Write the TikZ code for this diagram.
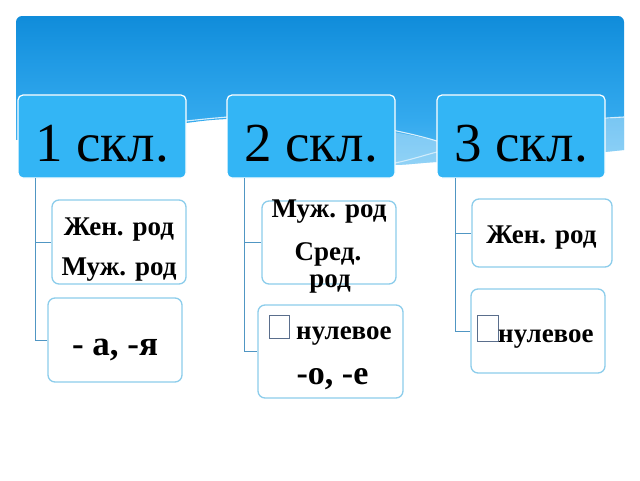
\documentclass[tikz,border=0pt]{standalone}
\usepackage{fontspec}
\setmainfont{Liberation Serif}
\usetikzlibrary{calc}
\definecolor{bantop}{RGB}{16,140,218}
\definecolor{banmid}{RGB}{32,154,228}
\definecolor{banlow}{RGB}{52,170,238}
\definecolor{banbot}{RGB}{85,186,242}
\definecolor{hdr}{RGB}{51,181,245}
\definecolor{cbord}{RGB}{140,205,235}
\definecolor{conn}{RGB}{80,150,195}
\definecolor{tofu}{RGB}{90,110,140}
\pgfdeclareverticalshading{bansh}{100bp}{color(0bp)=(banbot); color(25bp)=(banbot); color(40bp)=(banlow); color(60bp)=(banmid); color(75bp)=(bantop); color(100bp)=(bantop)}
\tikzset{
  hdrbox/.style={draw=white, line width=1.2pt, fill=hdr, rounded corners=5pt, inner sep=0pt},
  childbox/.style={draw=cbord, line width=1.3pt, fill=white, rounded corners=7pt, inner sep=0pt},
  hdrtext/.style={font=\fontsize{55}{60}\selectfont, anchor=base, inner sep=0pt},
  lbl/.style={font=\fontsize{27}{30}\selectfont\bfseries, anchor=base, inner sep=0pt},
  endg/.style={font=\fontsize{35}{40}\selectfont\bfseries, anchor=base, inner sep=0pt},
  tofubox/.style={draw=tofu, line width=0.8pt, fill=white, inner sep=0pt},
  connline/.style={draw=conn, line width=1pt},
  streak/.style={draw=white, line width=1.1pt}
}
\begin{document}
\begin{tikzpicture}[x=1pt,y=-1pt]
\useasboundingbox (0,0) rectangle (640,480);
% banner
\shade[shading=bansh]
  (16,140) -- (16,22) arc[start angle=180,end angle=270,radius=6] -- (618,16)
  arc[start angle=270,end angle=360,radius=6] -- (624,150)
  -- (605,152) .. controls (520,160) and (470,162) .. (437,162)
  .. controls (420,163) and (405,165) .. (395,165)
  .. controls (330,165) and (260,125) .. (228,119)
  .. controls (205,120) and (195,122) .. (186,123)
  .. controls (120,128) and (60,135) .. (16,140) -- cycle;
% lighter wave region
\fill[white, opacity=0.35]
  (228,119) .. controls (320,118) and (380,128) .. (437,141)
  .. controls (500,150) and (560,122) .. (605,119) -- (624,117) -- (624,150)
  -- (605,152) .. controls (520,160) and (470,162) .. (437,162)
  .. controls (420,163) and (405,165) .. (395,165)
  .. controls (330,165) and (260,125) .. (228,119) -- cycle;
\draw[streak, opacity=0.8] (186,121) .. controls (205,119) and (215,118) .. (228,117);
\draw[streak, opacity=0.8] (300,120) .. controls (350,121) and (400,130) .. (437,141);
\draw[streak, opacity=0.8] (560,124) .. controls (590,119) and (605,118) .. (624,117);
\draw[streak, opacity=0.6] (395,163) .. controls (410,160) and (425,155) .. (437,152);

% header boxes
\node[hdrbox, minimum width=168pt, minimum height=83pt] (h1) at (102,136.5) {};
\node[hdrbox, minimum width=168pt, minimum height=83pt] (h2) at (311,136.5) {};
\node[hdrbox, minimum width=168pt, minimum height=83pt] (h3) at (521,136.5) {};
\node[hdrtext] (h1t) at (102,161) {1 скл.};
\node[hdrtext] (h2t) at (311,161) {2 скл.};
\node[hdrtext] (h3t) at (521,161) {3 скл.};

% child boxes
\node[childbox, minimum width=134pt, minimum height=84pt] (a1) at (119,242) {};
\node[childbox, minimum width=134pt, minimum height=84pt] (b1) at (115,340) {};
\node[childbox, minimum width=134pt, minimum height=83pt] (a2) at (329,242.5) {};
\node[childbox, minimum width=145pt, minimum height=93pt] (b2) at (330.5,351.5) {};
\node[childbox, minimum width=140pt, minimum height=68pt] (a3) at (542,233) {};
\node[childbox, minimum width=134pt, minimum height=84pt] (b3) at (538,331) {};

% connectors
\coordinate (v1) at (35,178);
\coordinate (v2) at (244,178);
\coordinate (v3) at (455,178);
\draw[connline] (v1) |- (a1.west);
\draw[connline] (v1) |- (b1.west);
\draw[connline] (v2) |- (a2.west);
\draw[connline] (v2) |- (b2.west);
\draw[connline] (v3) |- (a3.west);
\draw[connline] (v3) |- (b3.west);

% texts column 1
\node[lbl] (a1t1) at (119,235) {Жен. род};
\node[lbl] (a1t2) at (119,275) {Муж. род};
\node[endg] (b1t) at (115,355) {- а, -я};
% column 2
\node[lbl] (a2t1) at (329,217) {Муж. род};
\node[lbl] (a2t2) at (328,260) {Сред.};
\node[lbl] (a2t3) at (330,287) {род};
\node[tofubox, minimum width=20pt, minimum height=23pt] (b2q) at (279,326.5) {};
\node[lbl, anchor=base west] (b2t1) at (296,339) {нулевое};
\node[endg, font=\fontsize{34}{40}\selectfont\bfseries] (b2t2) at (332.5,384) {-о, -е};
% column 3
\node[lbl] (a3t) at (541.5,243) {Жен. род};
\node[tofubox, minimum width=21pt, minimum height=26pt] (b3q) at (487.5,328) {};
\node[lbl, anchor=base west] (b3t) at (498,342) {нулевое};
\end{tikzpicture}
\end{document}
